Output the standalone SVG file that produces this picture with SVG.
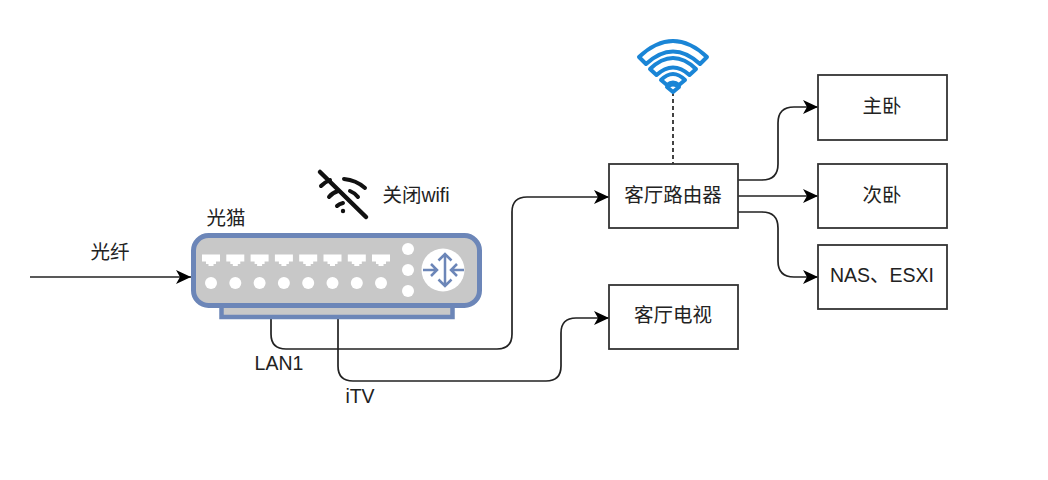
<svg xmlns="http://www.w3.org/2000/svg" width="1048" height="480" viewBox="0 0 1048 480">
<defs>
<marker id="arr" markerUnits="userSpaceOnUse" markerWidth="18" markerHeight="16" refX="16" refY="8" orient="auto"><path d="M1 1L16 8L1 15L5 8Z" fill="#000"/></marker>
<path id="port" d="M-9-5.500H9V1.500H5V4H2.500V6H-2.500V4H-5V1.500H-9Z" fill="#fff"/>
</defs>
<style>
text{font-family:"Liberation Sans","Noto Sans CJK SC",sans-serif;font-size:19.500px;fill:#222;text-anchor:middle}
.box{fill:#fff;stroke:#333;stroke-width:1.800}
.c{fill:none;stroke:#222;stroke-width:1.700;marker-end:url(#arr)}
.dot{fill:#fff}
.w{fill:none;stroke:#1a85d6;stroke-width:4;stroke-linejoin:round}
.ic{fill:none;stroke:#6c86b8;stroke-width:2.500}
</style>
<rect width="1048" height="480" fill="#fff"/>
<g id="connectors">
<path class="c" d="M30 277H191"/>
<path class="c" d="M271 318V334Q271 349 286 349H497Q512 349 512 334V212Q512 197 527 197H609"/>
<path class="c" d="M338 318V366Q338 381 353 381H546Q561 381 561 366V333Q561 318 576 318H609"/>
<path class="c" d="M738 180H762Q778 180 778 164V123Q778 107 794 107H818"/>
<path class="c" d="M738 196H818"/>
<path class="c" d="M738 212H762Q778 212 778 228V261Q778 277 794 277H818"/>
<path d="M673 92V164" fill="none" stroke="#222" stroke-width="1.700" stroke-dasharray="4 3"/>
</g>
<g id="modem">
<rect x="221.500" y="304" width="231" height="13" fill="#c8c8c8" stroke="#6c86b8" stroke-width="4.500"/>
<rect x="193.500" y="235.500" width="286" height="70" rx="15" fill="#c8c8c8" stroke="#6c86b8" stroke-width="5"/>
<use href="#port" x="211" y="260"/><use href="#port" x="235.300" y="260"/><use href="#port" x="259.600" y="260"/><use href="#port" x="283.900" y="260"/><use href="#port" x="308.200" y="260"/><use href="#port" x="332.500" y="260"/><use href="#port" x="356.800" y="260"/><use href="#port" x="381" y="260"/>
<circle class="dot" cx="211" cy="283" r="6"/><circle class="dot" cx="235.300" cy="283" r="6"/><circle class="dot" cx="259.600" cy="283" r="6"/><circle class="dot" cx="283.900" cy="283" r="6"/><circle class="dot" cx="308.200" cy="283" r="6"/><circle class="dot" cx="332.500" cy="283" r="6"/><circle class="dot" cx="356.800" cy="283" r="6"/><circle class="dot" cx="381" cy="283" r="6"/>
<circle class="dot" cx="408" cy="249" r="6"/><circle class="dot" cx="408" cy="270" r="6"/><circle class="dot" cx="408" cy="291" r="6"/>
<circle class="dot" cx="443" cy="270" r="21.500"/>
<path class="ic" d="M445 254V286M438.500 260.500L445 254L451.500 260.500M438.500 279.500L445 286L451.500 279.500M423 270H437M431 264L437 270L431 276M464 270H451M457 264L451 270L457 276"/>
<text x="226" y="225">光猫</text>
</g>
<g id="wifi-off">
<path d="M320 172L366 217" fill="none" stroke="#111" stroke-width="4.500" stroke-linecap="round"/>
<path d="M321 186Q325 182 330 180M344 179Q356 180 365 188M329 197Q332 193 338 191M350 191Q355 193 358 197M337 206Q339 204 343 203" fill="none" stroke="#111" stroke-width="4" stroke-linecap="round"/>
<circle cx="343" cy="211" r="2.200" fill="#111"/>
<text x="416" y="202">关闭wifi</text>
</g>
<g id="fiber"><text x="110" y="259">光纤</text></g>
<g id="label-lan1"><text x="279" y="370">LAN1</text></g>
<g id="label-itv"><text x="360" y="403">iTV</text></g>
<g id="router"><rect class="box" x="609" y="164" width="129" height="64"/><text x="673" y="202">客厅路由器</text></g>
<g id="tv"><rect class="box" x="609" y="285" width="129" height="64"/><text x="673" y="322">客厅电视</text></g>
<g id="master"><rect class="box" x="818" y="75" width="129" height="65"/><text x="882" y="113">主卧</text></g>
<g id="second"><rect class="box" x="818" y="164" width="129" height="64"/><text x="882" y="202">次卧</text></g>
<g id="nas"><rect class="box" x="818" y="245" width="129" height="64"/><text x="882" y="282">NAS、ESXI</text></g>
<g id="wifi">
<path class="w" d="M639 57Q673 25 707 57L700 64Q673 39 646 64Z"/>
<path class="w" d="M650 69Q673 47 696 69L689.500 75Q673 60 656.500 75Z"/>
<path class="w" d="M661 80Q673 68 685 80L679 85Q673 80 667 85Z"/>
<path class="w" stroke-width="3" d="M673 92L667 87Q673 82 679 87Z"/>
</g>
</svg>
